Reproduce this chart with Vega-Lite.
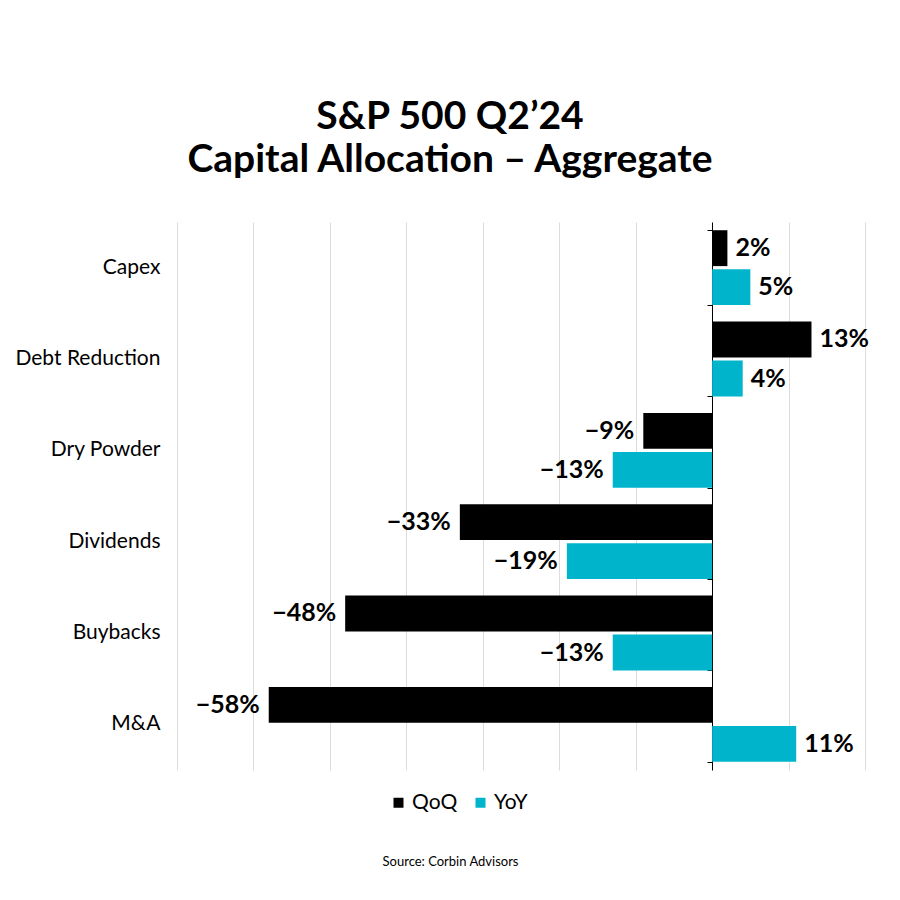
{
  "$schema": "https://vega.github.io/schema/vega-lite/v6.json",
  "autosize": {"type": "none"},
  "width": 688,
  "height": 548,
  "padding": {"left": 177, "top": 222, "right": 35, "bottom": 130},
  "background": "white",
  "title": {
    "text": ["S&P 500 Q2’24", "Capital Allocation – Aggregate"],
    "font": "Lato",
    "fontSize": 39,
    "fontWeight": "bold",
    "color": "#000000",
    "lineHeight": 43,
    "anchor": "middle",
    "frame": "group",
    "dx": -71,
    "offset": 42
  },
  "config": {
    "view": {"stroke": null},
    "font": "Lato"
  },
  "data": {
    "values": [
      {"category": "Capex", "series": "QoQ", "value": 0.02},
      {"category": "Capex", "series": "YoY", "value": 0.05},
      {"category": "Debt Reduction", "series": "QoQ", "value": 0.13},
      {"category": "Debt Reduction", "series": "YoY", "value": 0.04},
      {"category": "Dry Powder", "series": "QoQ", "value": -0.09},
      {"category": "Dry Powder", "series": "YoY", "value": -0.13},
      {"category": "Dividends", "series": "QoQ", "value": -0.33},
      {"category": "Dividends", "series": "YoY", "value": -0.19},
      {"category": "Buybacks", "series": "QoQ", "value": -0.48},
      {"category": "Buybacks", "series": "YoY", "value": -0.13},
      {"category": "M&A", "series": "QoQ", "value": -0.58},
      {"category": "M&A", "series": "YoY", "value": 0.11}
    ]
  },
  "encoding": {
    "y": {
      "field": "category",
      "type": "nominal",
      "sort": ["Capex", "Debt Reduction", "Dry Powder", "Dividends", "Buybacks", "M&A"],
      "scale": {"paddingInner": 0.18, "paddingOuter": 0.09},
      "title": null,
      "axis": null
    },
    "yOffset": {
      "field": "series",
      "type": "nominal",
      "sort": ["QoQ", "YoY"],
      "scale": {"paddingInner": 0.08}
    },
    "x": {
      "field": "value",
      "type": "quantitative",
      "scale": {"domain": [-0.7, 0.2], "nice": false, "zero": false},
      "axis": {
        "values": [-0.7, -0.6, -0.5, -0.4, -0.3, -0.2, -0.1, 0, 0.1, 0.2],
        "labels": false,
        "ticks": false,
        "domain": false,
        "grid": true,
        "gridColor": "#dcdcdc",
        "gridWidth": 1,
        "title": "Source: Corbin Advisors",
        "titleFont": "Lato",
        "titleFontSize": 13,
        "titleFontWeight": "normal",
        "titleColor": "#000000",
        "titleX": 273,
        "titleY": 95,
        "titleAlign": "center",
        "titleBaseline": "alphabetic"
      }
    }
  },
  "layer": [
    {
      "mark": {"type": "bar"},
      "encoding": {
        "y": {
          "field": "category",
          "type": "nominal",
          "sort": ["Capex", "Debt Reduction", "Dry Powder", "Dividends", "Buybacks", "M&A"],
          "title": null,
          "axis": {
            "orient": "left",
            "domain": false,
            "ticks": false,
            "labelPadding": 17,
            "labelFont": "Lato",
            "labelFontSize": 21,
            "labelColor": "#000000",
            "labelLimit": 300
          }
        },
        "color": {
          "field": "series",
          "type": "nominal",
          "sort": ["QoQ", "YoY"],
          "scale": {"domain": ["QoQ", "YoY"], "range": ["#000000", "#00B4CC"]},
          "legend": {
            "title": null,
            "orient": "none",
            "direction": "horizontal",
            "legendX": 211,
            "legendY": 570,
            "symbolType": "square",
            "symbolSize": 100,
            "symbolStrokeWidth": 0,
            "labelFont": "Lato",
            "labelFontSize": 21,
            "labelColor": "#000000",
            "labelOffset": 3,
            "columnPadding": 12
          }
        }
      }
    },
    {
      "transform": [{"filter": "datum.value >= 0"}],
      "mark": {"type": "text", "align": "left", "baseline": "middle", "dx": 8, "fontSize": 25, "fontWeight": "bold", "font": "Lato", "color": "#000000"},
      "encoding": {
        "text": {"field": "value", "type": "quantitative", "format": ".0%"}
      }
    },
    {
      "transform": [{"filter": "datum.value < 0"}],
      "mark": {"type": "text", "align": "right", "baseline": "middle", "dx": -9, "fontSize": 25, "fontWeight": "bold", "font": "Lato", "color": "#000000"},
      "encoding": {
        "text": {"field": "value", "type": "quantitative", "format": ".0%"}
      }
    },
    {
      "mark": {"type": "text", "text": ""},
      "encoding": {
        "y": {
          "field": "category",
          "type": "nominal",
          "sort": ["Capex", "Debt Reduction", "Dry Powder", "Dividends", "Buybacks", "M&A"],
          "title": null,
          "axis": {
            "orient": "left",
            "offset": -535,
            "labels": false,
            "domain": true,
            "domainColor": "#000000",
            "domainWidth": 1,
            "ticks": true,
            "tickBand": "extent",
            "tickColor": "#000000",
            "tickSize": 5,
            "tickWidth": 1,
            "grid": false,
            "title": null
          }
        }
      }
    }
  ],
  "resolve": {"axis": {"y": "independent"}}
}
